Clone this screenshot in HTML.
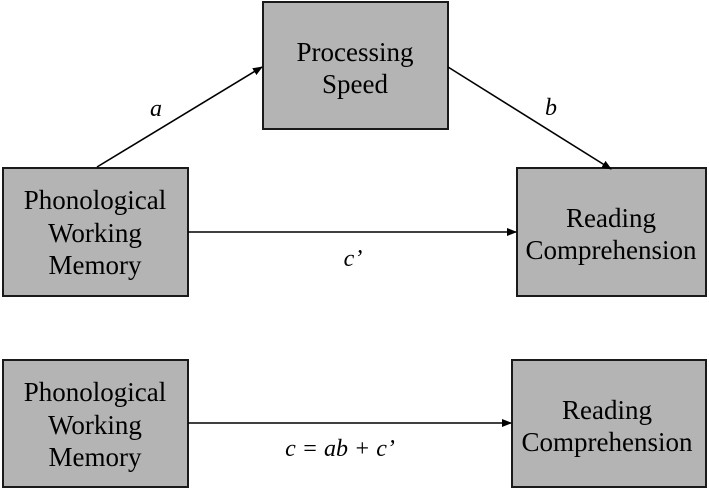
<!DOCTYPE html>
<html><head><style>
body{margin:0;width:709px;height:489px;background:#fff;overflow:hidden}
</style></head><body>
<svg width="709" height="489" viewBox="0 0 709 489" xmlns="http://www.w3.org/2000/svg">
<defs><marker id="ah" markerWidth="10" markerHeight="8" refX="9" refY="4" orient="auto" markerUnits="userSpaceOnUse"><path d="M0,0 L10,4 L0,8 z" fill="#000"/></marker></defs>
<g fill="#b4b4b4" stroke="#1a1a1a" stroke-width="2">
<rect x="263" y="2" width="185" height="127"/>
<rect x="3" y="168" width="185" height="128"/>
<rect x="517" y="168" width="189" height="128"/>
<rect x="3" y="360" width="185" height="127"/>
<rect x="512" y="360" width="194" height="127"/>
</g>
<g stroke="#000" stroke-width="1.6" fill="none">
<line x1="97" y1="167" x2="262" y2="67" marker-end="url(#ah)"/>
<line x1="448" y1="67" x2="611" y2="169" marker-end="url(#ah)"/>
<line x1="188" y1="232" x2="516" y2="232" marker-end="url(#ah)"/>
<line x1="188" y1="423" x2="511" y2="423" marker-end="url(#ah)"/>
</g>
<g font-family="Liberation Serif, serif" font-size="27" text-anchor="middle" fill="#000">
<text x="355" y="61">Processing</text>
<text x="355" y="93">Speed</text>
<text x="95" y="209">Phonological</text>
<text x="95" y="242">Working</text>
<text x="95" y="274">Memory</text>
<text x="611" y="227">Reading</text>
<text x="611" y="259">Comprehension</text>
<text x="95" y="401">Phonological</text>
<text x="95" y="434">Working</text>
<text x="95" y="466">Memory</text>
<text x="607" y="419">Reading</text>
<text x="607" y="451">Comprehension</text>
</g>
<g font-family="Liberation Serif, serif" font-size="24" font-style="italic" text-anchor="middle" fill="#000">
<text x="156" y="116">a</text>
<text x="551" y="115">b</text>
<text x="353" y="266">c’</text>
<text x="340" y="456">c = ab + c’</text>
</g>
</svg>
</body></html>
